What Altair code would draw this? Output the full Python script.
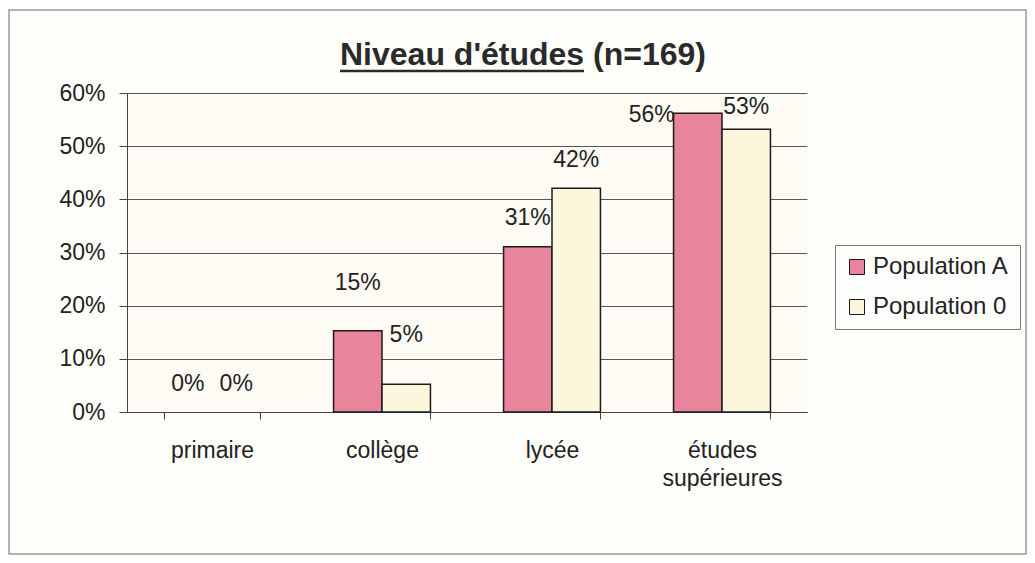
import altair as alt
import pandas as pd

categories = ["primaire", "collège", "lycée", "études supérieures"]
series = ["Population A", "Population 0"]
pop_a = [0.0, 0.153, 0.311, 0.562]
pop_0 = [0.0, 0.052, 0.421, 0.532]
label_y_a = [0.053, 0.242, 0.364, 0.559]
label_y_0 = [0.053, 0.144, 0.474, 0.574]
y_ticks = [0, 0.1, 0.2, 0.3, 0.4, 0.5, 0.6]
title_text = "Niveau d'études (n=169)"

PINK = "#e8859d"
CREAM = "#fcf6dc"
FONT = "Liberation Sans"

rows = []
for i, c in enumerate(categories):
    rows.append({"category": c, "series": series[0], "value": pop_a[i], "label_y": label_y_a[i]})
    rows.append({"category": c, "series": series[1], "value": pop_0[i], "label_y": label_y_0[i]})
df = pd.DataFrame(rows)

x_enc = alt.X(
    "category:N",
    sort=categories,
    scale=alt.Scale(domain=categories, paddingInner=0.43, paddingOuter=0.215),
    axis=alt.Axis(
        title=None,
        labelAngle=0,
        labelFont=FONT,
        labelFontSize=23,
        labelColor="#222222",
        labelBaseline="alphabetic",
        labelPadding=38,
        labelLineHeight=28,
        labelExpr="datum.label == 'études supérieures' ? ['études', 'supérieures'] : datum.label",
        tickBand="extent",
        tickSize=7,
        tickColor="#444444",
        domainColor="#444444",
        grid=False,
    ),
)
xoff = alt.XOffset("series:N", sort=series, scale=alt.Scale(domain=series))

bars = alt.Chart(df).transform_filter("datum.value > 0").mark_bar(
    stroke="#1a1a1a", strokeWidth=1.5
).encode(
    x=x_enc,
    xOffset=xoff,
    y=alt.Y(
        "value:Q",
        scale=alt.Scale(domain=[0, 0.6], nice=False),
        axis=alt.Axis(
            title=None,
            format=".0%",
            values=y_ticks,
            labelFont=FONT,
            labelFontSize=23,
            labelColor="#222222",
            labelPadding=14,
            tickSize=8,
            tickColor="#444444",
            domainColor="#444444",
            grid=True,
            gridColor="#555555",
            gridWidth=1,
        ),
    ),
    color=alt.Color(
        "series:N",
        sort=series,
        scale=alt.Scale(domain=series, range=[PINK, CREAM]),
        legend=alt.Legend(
            title=None,
            orient="none",
            legendX=708,
            legendY=152,
            symbolType="square",
            symbolSize=225,
            symbolStrokeColor="#1a1a1a",
            symbolStrokeWidth=1,
            labelFont=FONT,
            labelFontSize=24,
            labelColor="#222222",
            labelOffset=4,
            rowPadding=16,
            padding=10,
            strokeColor="#777777",
            fillColor="#fefefc",
        ),
    ),
)

label_base = alt.Chart(df).mark_text(
    font=FONT, fontSize=23, color="#222222", baseline="middle", align="center"
).encode(
    x=alt.X("category:N", sort=categories),
    xOffset=xoff,
    y=alt.Y("label_y:Q"),
    text=alt.Text("value:Q", format=".0%"),
)
labels_main = label_base.transform_filter(
    "!(datum.category == 'études supérieures' && datum.series == 'Population A')"
)
labels_shift = label_base.mark_text(
    font=FONT, fontSize=23, color="#222222", baseline="middle", align="center", dx=-46
).transform_filter(
    "datum.category == 'études supérieures' && datum.series == 'Population A'"
)

one = alt.Data(values=[{"t": title_text}])
title = alt.Chart(one).mark_text(
    font=FONT, fontSize=32, fontWeight="bold", color="#2a2a2a",
    align="left", baseline="alphabetic"
).encode(x=alt.value(213), y=alt.value(-28), text="t:N")
underline = alt.Chart(one).mark_rule(color="#2a2a2a", strokeWidth=2.5).encode(
    x=alt.value(213), x2=alt.value(457), y=alt.value(-22)
)
frame = alt.Chart(one).mark_rect(
    fillOpacity=0, stroke="#9a9a9a", strokeWidth=1.5
).encode(x=alt.value(-118), x2=alt.value(899), y=alt.value(-83), y2=alt.value(461))

chart = alt.layer(frame, bars, labels_main, labels_shift, title, underline).properties(
    width=680,
    height=319,
    autosize=alt.AutoSizeParams(type="none"),
    padding={"left": 119, "top": 85, "right": 220, "bottom": 143},
    background="#fefefb",
).configure_view(
    fill="#fdfbf3", stroke=None
)

chart.save("out.html", embed_options={"renderer": "svg", "actions": False})
